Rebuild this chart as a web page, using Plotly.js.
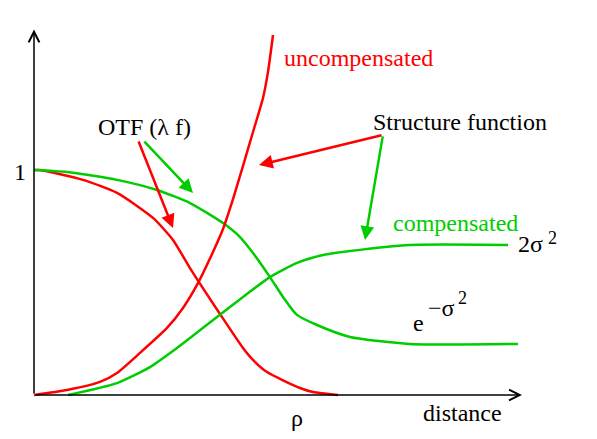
<!DOCTYPE html>
<html>
<head>
<meta charset="utf-8">
<script src="https://cdn.plot.ly/plotly-3.0.1.min.js"></script>
<style>html,body{margin:0;padding:0;background:#fff}#chart{width:597px;height:439px}</style>
</head>
<body>
<div id="chart"></div>
<script>
// OTF, uncompensated (red, decreasing)
const otfUncompX = [0, 0.06, 0.49, 0.83, 1.19, 1.39, 1.56, 1.86, 2.09, 2.19, 2.33, 2.66, 2.79, 3.04];
const otfUncompY = [1.0, 1.0, 0.956, 0.898, 0.787, 0.689, 0.564, 0.36, 0.209, 0.156, 0.102, 0.031, 0.013, 0.0];
// OTF, compensated (green, decreasing)
const otfCompX = [0, 0.33, 0.83, 1.23, 1.56, 1.89, 2.06, 2.19, 2.36, 2.49, 2.63, 2.83, 3.16, 3.76, 4.84];
const otfCompY = [1.0, 0.991, 0.956, 0.911, 0.853, 0.764, 0.702, 0.631, 0.524, 0.436, 0.356, 0.311, 0.258, 0.227, 0.227];
// Structure function, uncompensated (red, increasing)
const sfUncompX = [0, 0.33, 0.66, 0.83, 1.06, 1.33, 1.49, 1.63, 1.79, 1.89, 1.99, 2.09, 2.19, 2.29, 2.34, 2.39];
const sfUncompY = [0, 0.022, 0.058, 0.098, 0.187, 0.298, 0.387, 0.489, 0.636, 0.738, 0.871, 1.018, 1.169, 1.32, 1.436, 1.6];
// Structure function, compensated (green, increasing)
const sfCompX = [0.34, 0.83, 1.16, 1.43, 1.56, 1.83, 2.09, 2.36, 2.63, 2.89, 3.16, 3.76, 4.74];
const sfCompY = [0, 0.053, 0.124, 0.209, 0.253, 0.347, 0.436, 0.524, 0.587, 0.622, 0.640, 0.667, 0.667];

const RED = '#ff0000', GREEN = '#00cd00';
const FONT = 'Liberation Serif';

const traces = [
  {x: otfUncompX, y: otfUncompY, color: RED},
  {x: otfCompX, y: otfCompY, color: GREEN},
  {x: sfUncompX, y: sfUncompY, color: RED},
  {x: sfCompX, y: sfCompY, color: GREEN}
].map(t => ({
  x: t.x, y: t.y, type: 'scatter', mode: 'lines',
  line: {color: t.color, width: 2.5, shape: 'spline', smoothing: 0.6},
  hoverinfo: 'skip', showlegend: false
}));

function arrow(x, y, ax, ay, color, w, size, head) {
  return {x: x, y: y, ax: ax, ay: ay, xref: 'x', yref: 'y', axref: 'x', ayref: 'y',
    text: '', showarrow: true, arrowcolor: color, arrowwidth: w, arrowsize: size,
    arrowhead: head, standoff: 0, startstandoff: 0};
}
function label(text, x, y, color, size, xanchor) {
  return {x: x, y: y, xref: 'x', yref: 'y', text: text, showarrow: false,
    xanchor: xanchor || 'left', yanchor: 'middle',
    font: {family: FONT, size: size || 24, color: color || '#000'}};
}

const annotations = [
  // axes
  arrow(0, 1.625, 0, 0, '#000', 1.5, 1.4, 5),
  arrow(4.88, 0, 0, 0, '#000', 1.5, 1.4, 5),
  // pointer arrows
  arrow(1.39, 0.742, 1.04, 1.133, RED, 2.5, 1.1, 2),
  arrow(1.59, 0.898, 1.09, 1.133, GREEN, 2.5, 1.1, 2),
  arrow(2.25, 1.022, 3.49, 1.156, RED, 2.5, 1.1, 2),
  arrow(3.31, 0.689, 3.49, 1.156, GREEN, 2.5, 1.1, 2),
  // labels
  label('uncompensated', 2.48, 1.50, RED),
  label('OTF (λ f)', 0.62, 1.19),
  label('Structure function', 3.37, 1.215),
  label('compensated', 3.57, 0.765, GREEN),
  label('2σ', 4.82, 0.67),
  label('2', 5.12, 0.70, '#000', 18),
  label('e', 3.77, 0.32),
  label('−σ', 3.92, 0.385),
  label('2', 4.22, 0.43, '#000', 18),
  label('1', -0.22, 0.99),
  label('ρ', 2.55, -0.10),
  label('distance', 3.87, -0.08)
];

const layout = {
  width: 597, height: 439,
  margin: {l: 0, r: 0, t: 0, b: 0},
  font: {family: FONT},
  paper_bgcolor: '#fff', plot_bgcolor: '#fff',
  xaxis: {range: [-0.34, 5.63], visible: false, fixedrange: true},
  yaxis: {range: [-0.19556, 1.75556], visible: false, fixedrange: true},
  annotations: annotations,
  showlegend: false
};

Plotly.newPlot('chart', traces, layout, {displayModeBar: false, staticPlot: true});
</script>
</body>
</html>
